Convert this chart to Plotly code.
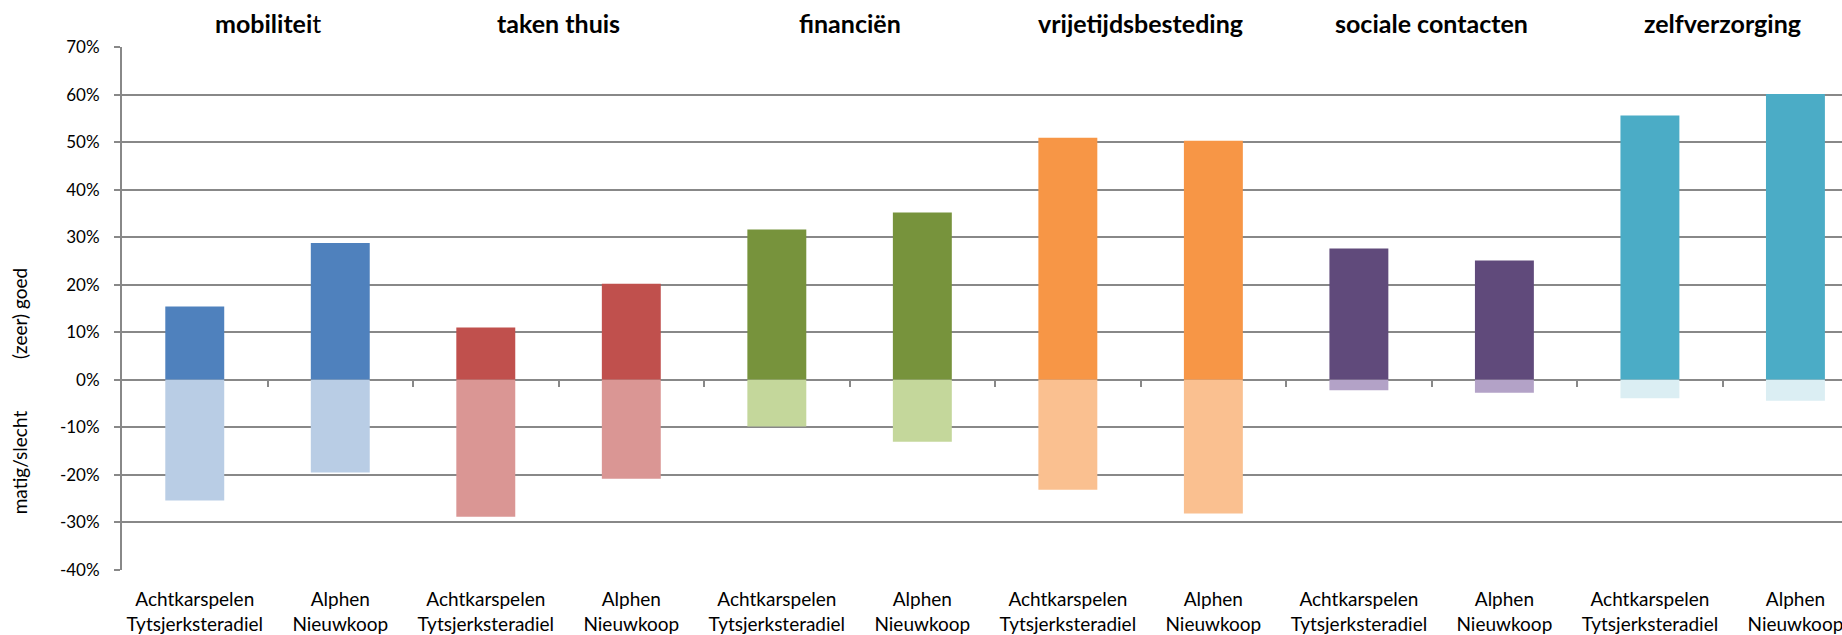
import plotly.graph_objects as go

# domeinen en gemeenten
domeinen = ["mobilitei", "taken thuis", "financiën", "vrijetijdsbesteding", "sociale contacten", "zelfverzorging"]
gemeenten = ["Achtkarspelen<br>Tytsjerksteradiel", "Alphen<br>Nieuwkoop"]

# aandeel (zeer) goed en matig/slecht per gemeente
goed = [0.154, 0.288, 0.110, 0.202, 0.316, 0.352, 0.509, 0.503, 0.276, 0.251, 0.556, 0.601]
slecht = [-0.254, -0.195, -0.288, -0.208, -0.098, -0.130, -0.231, -0.281, -0.022, -0.027, -0.039, -0.044]

kleur_goed = ["#4F81BD", "#C0504D", "#77933C", "#F79646", "#604A7B", "#4BACC6"]
kleur_slecht = ["#B9CDE5", "#DA9694", "#C4D79B", "#FAC090", "#B3A2C7", "#DBEEF3"]

y_ticks = [-0.4, -0.3, -0.2, -0.1, 0, 0.1, 0.2, 0.3, 0.4, 0.5, 0.6, 0.7]
y_labels = ["-40%", "-30%", "-20%", "-10%", "0%", "10%", "20%", "30%", "40%", "50%", "60%", "70%"]

labels = [g for d in domeinen for g in gemeenten]
xs = list(range(len(labels)))
c_goed = [c for c in kleur_goed for _ in gemeenten]
c_slecht = [c for c in kleur_slecht for _ in gemeenten]

GRIJS = "#888888"
FONT = "Lato"

fig = go.Figure()
fig.add_trace(go.Bar(x=xs, y=goed, marker=dict(color=c_goed, line_width=0), width=0.405, showlegend=False))
fig.add_trace(go.Bar(x=xs, y=slecht, marker=dict(color=c_slecht, line_width=0), width=0.405, showlegend=False))
# lege trace voor de tweede x-as (streepjes op de nullijn)
fig.add_trace(go.Scatter(x=[0], y=[0], xaxis="x2", mode="none", showlegend=False, hoverinfo="skip"))

for i, d in enumerate(domeinen):
    tekst = "<b>" + d + "</b>" + ("t" if d == "mobilitei" else "")
    fig.add_annotation(x=i * 2 + 0.5, y=1, xref="x", yref="paper", yanchor="bottom", yshift=7,
                       text=tekst, showarrow=False, font=dict(family=FONT, size=25, color="black"))

fig.add_annotation(x=-0.058, y=0.139, xref="paper", yref="y", xanchor="center", xshift=-3,
                   text="(zeer) goed", textangle=-90, showarrow=False,
                   font=dict(family=FONT, size=19, color="black"))
fig.add_annotation(x=-0.058, y=-0.173, xref="paper", yref="y", xanchor="center", xshift=-3,
                   text="matig/slecht", textangle=-90, showarrow=False,
                   font=dict(family=FONT, size=19, color="black"))

fig.update_layout(
    width=1842, height=635,
    margin=dict(l=122, r=0, t=47, b=65),
    paper_bgcolor="white", plot_bgcolor="white",
    barmode="relative",
    font=dict(family=FONT, size=19, color="black"),
    xaxis=dict(range=[-0.5, 11.32], tickvals=xs, ticktext=labels, showgrid=False, zeroline=False,
               showline=False, ticks="outside", ticklen=12, tickcolor="rgba(0,0,0,0)",
               tickfont=dict(size=19), ticklabeloverflow="allow", automargin=False),
    xaxis2=dict(range=[-0.5, 11.32], overlaying="x", anchor="free", position=0.4 / 1.1, side="bottom",
                tickvals=[i + 0.5 for i in xs], ticks="outside", ticklen=6, tickwidth=2, tickcolor=GRIJS,
                showticklabels=False, showgrid=False, zeroline=False, showline=False, automargin=False),
    yaxis=dict(range=[-0.4, 0.7], tickvals=y_ticks, ticktext=y_labels, showgrid=True, gridcolor=GRIJS,
               gridwidth=2, zeroline=True, zerolinecolor=GRIJS, zerolinewidth=2, showline=True,
               linecolor=GRIJS, linewidth=2, ticks="outside", ticklen=6, tickwidth=2, tickcolor=GRIJS,
               tickfont=dict(size=17), ticklabelstandoff=11, automargin=False),
)

# standaardmarge van de pagina weghalen zodat de figuur op (0,0) begint
fig.write_html("out.html", config={"displayModeBar": False},
               post_script="document.body.style.margin='0';")
